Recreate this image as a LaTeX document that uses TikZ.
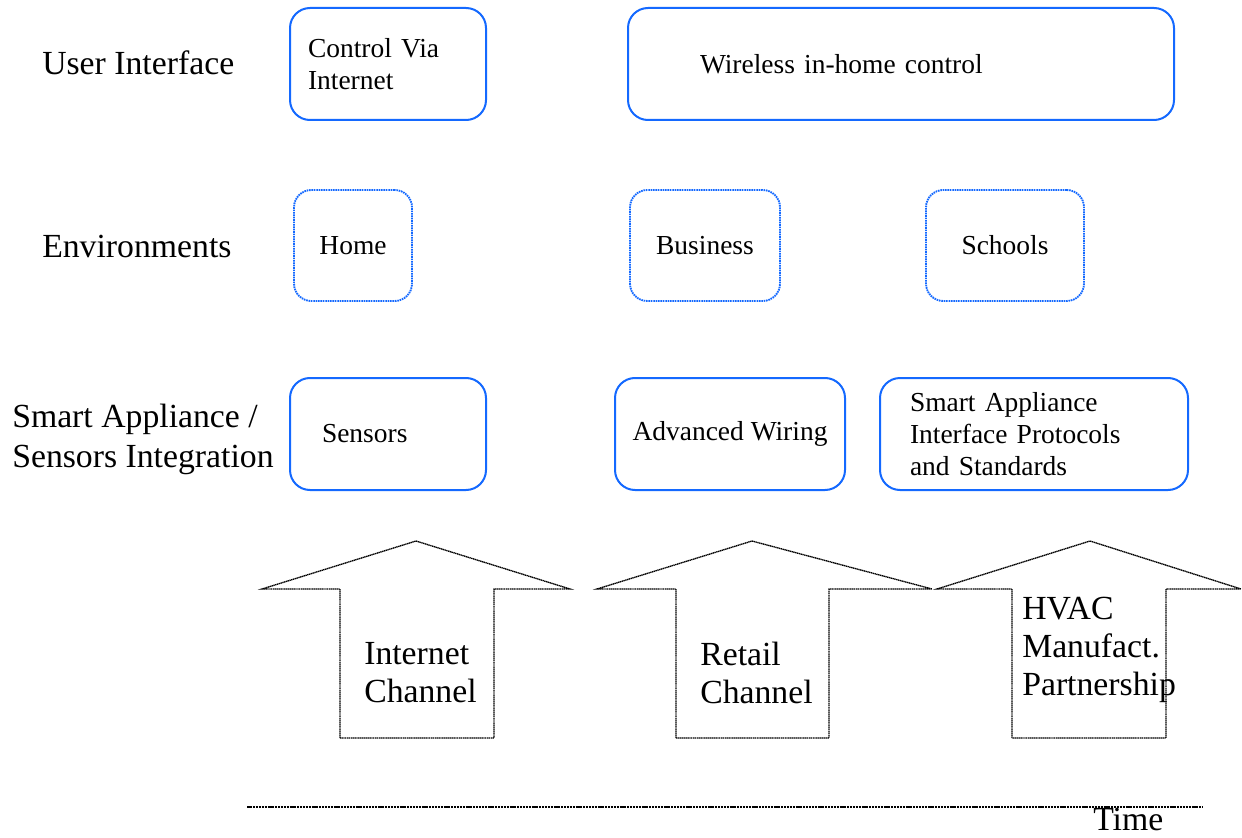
\documentclass[tikz,border=0pt]{standalone}
\usepackage{fontspec}
\setmainfont{Liberation Serif}
\definecolor{boxblue}{RGB}{20,105,255}
\tikzset{
  x=0.75pt, y=-0.75pt,
  solidbox/.style={draw=boxblue, line width=1.5pt, rounded corners=15pt, font=\fontsize{20.6}{24}\selectfont},
  dotbox/.style={draw=boxblue, line width=1.4pt, rounded corners=13pt, dash pattern=on 1.2pt off 0.6pt, font=\fontsize{20.6}{24}\selectfont},
  rowlabel/.style={anchor=west, inner sep=0pt, align=left, font=\fontsize{25.3}{30}\selectfont},
  arrowtext/.style={anchor=west, inner sep=0pt, align=left, font=\fontsize{25.3}{28.5}\selectfont},
  arrowshape/.style={draw=black, line width=1pt, dash pattern=on 1pt off 0.4pt},
}
\begin{document}
\begin{tikzpicture}
\useasboundingbox (0,0) rectangle (1242,838);
% row labels
\node[rowlabel] (lui) at (42,63) {User Interface};
\node[rowlabel] (lenv) at (42,246) {Environments};
\node[rowlabel] (lsmart) at (12,439) {Smart Appliance /\\Sensors Integration};
% user interface row
\node[solidbox, minimum width=147pt, minimum height=84pt, text width=120pt, inner xsep=13.5pt, align=left] (ctrl) at (388,64) {Control Via\\Internet};
\node[solidbox, minimum width=409.5pt, minimum height=84pt, text width=301.5pt, inner xsep=54pt, align=left] (wire) at (901,64) {Wireless in-home control};
% environments row
\node[dotbox, minimum width=88.5pt, minimum height=83.25pt] (home) at (353,245.5) {Home};
\node[dotbox, minimum width=112.5pt, minimum height=83.25pt] (bus) at (705,245.5) {Business};
\node[dotbox, minimum width=118.5pt, minimum height=83.25pt] (sch) at (1005,245.5) {Schools};
% smart appliance row
\node[solidbox, minimum width=147pt, minimum height=84pt, text width=99pt, inner xsep=24pt, align=left] (sens) at (388,434) {Sensors};
\node[solidbox, minimum width=172.5pt, minimum height=84pt] (wiring) at (730,434) {Advanced Wiring};
\node[solidbox, minimum width=231pt, minimum height=84pt, text width=186pt, inner xsep=22.5pt, align=left] (proto) at (1034,434) {Smart Appliance\\Interface Protocols\\and Standards};
% channel arrows
\draw[arrowshape] (340,738) -- (340,589) -- (262,589) -- (416,541) -- (570,589) -- (494,589) -- (494,738) -- cycle;
\draw[arrowshape] (676,738) -- (676,589) -- (597,589) -- (752,541) -- (932,589) -- (829,589) -- (829,738) -- cycle;
\draw[arrowshape] (1012,738) -- (1012,589) -- (937,589) -- (1090,541) -- (1241,589) -- (1166,589) -- (1166,738) -- cycle;
\node[arrowtext] (ich) at (364,673) {Internet\\Channel};
\node[arrowtext] (rch) at (700,673) {Retail\\Channel};
\node[arrowtext] (hvac) at (1022,650) {HVAC\\Manufact.\\Partnership};
% time axis
\coordinate (t0) at (247,807);
\coordinate (t1) at (1203,807);
\draw[line width=0.9pt, dash pattern=on 0.8pt off 0.3pt] (t0) -- (t1);
\node[rowlabel] (time) at (1093,819) {Time};
\end{tikzpicture}
\end{document}
